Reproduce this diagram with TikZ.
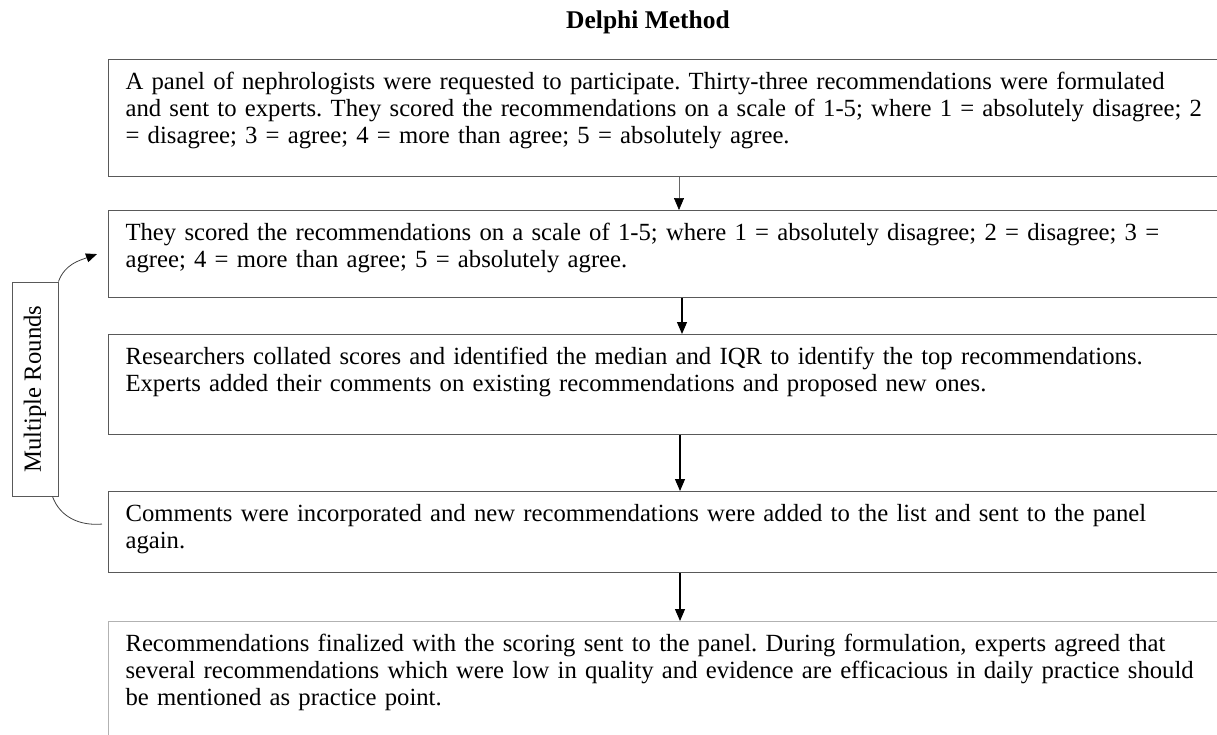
\documentclass[tikz,border=0pt]{standalone}
\usepackage{fontspec}
\setmainfont{Liberation Serif}
\usetikzlibrary{arrows.meta}
\frenchspacing

\begin{document}
\begin{tikzpicture}[x=1pt,y=-1pt,
    stage/.style={draw=black!65, line width=1.1pt, anchor=north west, inner xsep=17pt, inner ysep=0pt,
      text width=1100pt, align=left, font=\fontsize{24.7}{27}\selectfont, text height=30pt},
    flow/.style={-{Triangle[length=12pt,width=10pt]}, line width=1.2pt},
    loop/.style={black!75, line width=0.8pt}]
    \clip (0,0) rectangle (1217,734);
    \node[font=\bfseries\fontsize{25.5}{27}\selectfont] (title) at (648,22) {Delphi Method};
    \node[stage, text depth=87pt] (s1) at (108,59) {A panel of nephrologists were requested to participate. Thirty-three recommendations were formulated\\and sent to experts. They scored the recommendations on a scale of 1-5; where 1 = absolutely disagree; 2\\= disagree; 3 = agree; 4 = more than agree; 5 = absolutely agree.};
    \node[stage, text depth=57pt] (s2) at (108,210) {They scored the recommendations on a scale of 1-5; where 1 = absolutely disagree; 2 = disagree; 3 =\\agree; 4 = more than agree; 5 = absolutely agree.};
    \node[stage, text depth=70pt] (s3) at (108,334) {Researchers collated scores and identified the median and IQR to identify the top recommendations.\\Experts added their comments on existing recommendations and proposed new ones.};
    \node[stage, text depth=51pt] (s4) at (108,491) {Comments were incorporated and new recommendations were added to the list and sent to the panel\\again.};
    \node[stage, draw=black!30, text depth=109pt] (s5) at (108,621) {Recommendations finalized with the scoring sent to the panel. During formulation, experts agreed that\\several recommendations which were low in quality and evidence are efficacious in daily practice should\\be mentioned as practice point.};
    \node[draw=black!65, line width=1pt, rotate=90, minimum width=214pt, minimum height=46pt, inner sep=0pt,
      font=\fontsize{24.7}{27}\selectfont] (rounds) at (35,389) {Multiple Rounds};
    \draw[flow, line width=0.6pt, draw=black!60, -{Triangle[length=12pt,width=10pt,color=black]}] ([xshift=571pt]s1.south west) -- ([xshift=571pt]s2.north west);
    \draw[flow] ([xshift=574pt]s2.south west) -- ([xshift=574pt]s3.north west);
    \draw[flow] ([xshift=572pt]s3.south west) -- ([xshift=572pt]s4.north west);
    \draw[flow] ([xshift=572pt]s4.south west) -- ([xshift=572pt]s5.north west);
    \draw[loop, -{Triangle[length=11pt,width=9pt,color=black]}] (rounds.south east) to[out=70, in=200] ([xshift=-11pt]s2.west);
    \draw[loop] ([xshift=-6pt]rounds.south west) to[out=-70, in=185] ([xshift=-6pt,yshift=8pt]s4.west);
\end{tikzpicture}
\end{document}
